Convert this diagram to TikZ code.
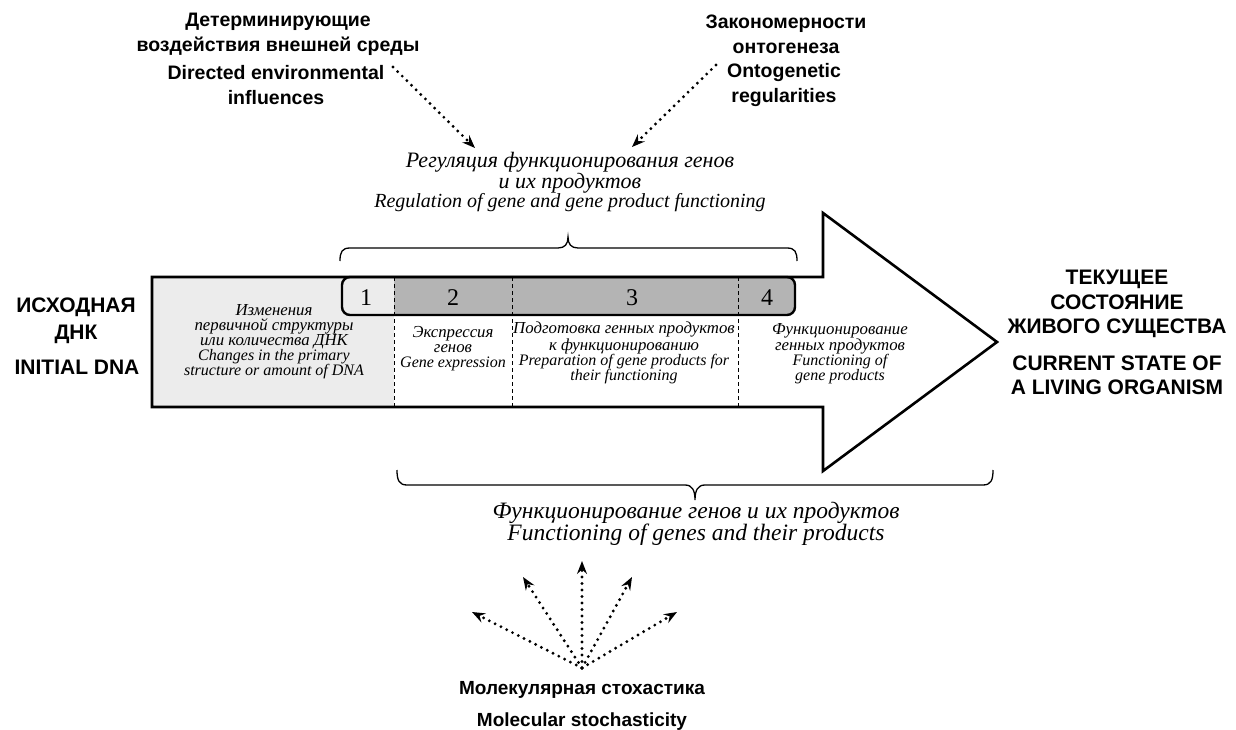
\documentclass[tikz,border=0pt]{standalone}
\usepackage{fontspec}
\setmainfont{Liberation Serif}
\newfontfamily\hsans{Liberation Sans}
\usetikzlibrary{arrows.meta,calc}
\definecolor{lightcell}{HTML}{ECECEC}
\definecolor{midcell}{HTML}{B4B4B4}
\newcommand{\rufont}{\fontsize{16.8}{15}\selectfont}
\begin{document}
\begin{tikzpicture}[x=1pt,y=-1pt,
  coltext/.style={inner sep=0pt,align=center,font=\fontsize{16}{15}\selectfont\itshape},
  captext/.style={inner sep=0pt,align=center,font=\hsans\bfseries\fontsize{21}{25}\selectfont},
  headtext/.style={inner sep=0pt,align=center,font=\hsans\bfseries\fontsize{19.5}{25}\selectfont},
  moltext/.style={inner sep=0pt,align=center,font=\hsans\bfseries\fontsize{19}{25}\selectfont},
  numtext/.style={inner sep=0pt,font=\fontsize{24}{24}\selectfont},
  dotarrow/.style={line width=3.2pt,dash pattern=on 0pt off 6.5pt,line cap=round,
     -{Stealth[length=13pt,width=10pt,inset=4.5pt]}},
  outline/.style={line width=2.6pt,line join=miter},
  divider/.style={line width=1pt,dash pattern=on 4pt off 3pt},
  bracepath/.style={line width=1.3pt}]
\useasboundingbox (0,0) rectangle (1236,730);
% fills
\fill[lightcell] (152,277) rectangle (394,407);
\fill[midcell,rounded corners=8] (342,277) rectangle (795,315);
\fill[lightcell] (394,277) [rounded corners=8] -- (342,277) -- (342,315) [sharp corners] -- (394,315) -- cycle;
% dividers
\draw[divider] (394,277) -- (394,407);
\draw[divider] (512,277) -- (512,407);
\draw[divider] (738,277) -- (738,407);
% bar outline
\draw[line width=2.4pt,rounded corners=8] (342,277) rectangle (795,315);
% big arrow
\draw[outline] (152,277) -- (823,277) -- (823,213) -- (997,342) -- (823,471) -- (823,407) -- (152,407) -- cycle;
% numbers
\node[numtext] (n1) at (366,298) {1};
\node[numtext] (n2) at (453,298) {2};
\node[numtext] (n3) at (632,298) {3};
\node[numtext] (n4) at (767,298) {4};
% column texts
\node[coltext] (c1) at (274,342) {{\rufont Изменения}\\{\rufont первичной структуры}\\{\rufont или количества ДНК}\\Changes in the primary\\structure or amount of DNA};
\node[coltext] (c2) at (453,349) {{\rufont Экспрессия}\\{\rufont генов}\\Gene expression};
\node[coltext] (c3) at (624,353) {{\rufont Подготовка генных продуктов}\\{\rufont к функционированию}\\Preparation of gene products for\\their functioning};
\node[coltext] (c4) at (840,354) {{\rufont Функционирование}\\{\rufont генных продуктов}\\Functioning of\\gene products};
% side texts
\node[captext,font=\hsans\bfseries\fontsize{21}{27}\selectfont] (initru) at (76,321) {ИСХОДНАЯ\\ДНК};
\node[captext] (initen) at (77,367) {INITIAL DNA};
\node[captext,font=\hsans\bfseries\fontsize{21}{24.5}\selectfont] (curru) at (1117,304) {ТЕКУЩЕЕ\\СОСТОЯНИЕ\\ЖИВОГО СУЩЕСТВА};
\node[captext,font=\hsans\bfseries\fontsize{21}{24}\selectfont] (curen) at (1117,375) {CURRENT STATE OF\\A LIVING ORGANISM};
% top headers
\node[headtext] (envru) at (278,34) {Детерминирующие\\воздействия внешней среды};
\node[headtext] (enven) at (276,85) {Directed environmental\\influences};
\node[headtext] (ontru) at (786,34) {Закономерности\\онтогенеза};
\node[headtext] (onten) at (784,85) {Ontogenetic\\regularities};
% regulation text
\node[inner sep=0pt,align=center,font=\fontsize{20}{16.5}\selectfont\itshape] (reg) at (570,182)
  {{\fontsize{22}{16.5}\selectfont Регуляция функционирования генов}\\{\fontsize{22}{16.5}\selectfont и их продуктов}\\Regulation of gene and gene product functioning};
% functioning text
\node[inner sep=0pt,align=center,font=\fontsize{23.5}{18}\selectfont\itshape] (func) at (696,524)
  {Функционирование генов и их продуктов\\Functioning of genes and their products};
% molecular
\node[moltext] (molru) at (582,690) {Молекулярная стохастика};
\node[moltext] (molen) at (582,722) {Molecular stochasticity};
% braces
\draw[bracepath] (340,261) .. controls (340,252) and (342,248) .. (350,248) -- (558,248)
  .. controls (565,248) and (568,244) .. (568,237) .. controls (568,244) and (571,248) .. (578,248)
  -- (787,248) .. controls (795,248) and (797,252) .. (797,261);
\draw[bracepath] (397,470) .. controls (397,480) and (399,485) .. (407,485) -- (685,485)
  .. controls (692,485) and (695,490) .. (695,500) .. controls (695,490) and (698,485) .. (705,485)
  -- (983,485) .. controls (991,485) and (993,480) .. (993,470);
% top dotted arrows
\coordinate (envstart) at (393,67);
\coordinate (envend) at (475,148);
\coordinate (ontstart) at (716,65);
\coordinate (ontend) at (632,147);
\draw[dotarrow] (envstart) -- (envend);
\draw[dotarrow] (ontstart) -- (ontend);
% fan
\coordinate (fan) at (582,668);
\coordinate (f1) at (472,612);
\coordinate (f2) at (523,577);
\coordinate (f3) at (582,561);
\coordinate (f4) at (632,577);
\coordinate (f5) at (677,612);
\foreach \e in {f1,f2,f3,f4,f5}{\draw[dotarrow] (fan) -- (\e);}
\end{tikzpicture}
\end{document}
